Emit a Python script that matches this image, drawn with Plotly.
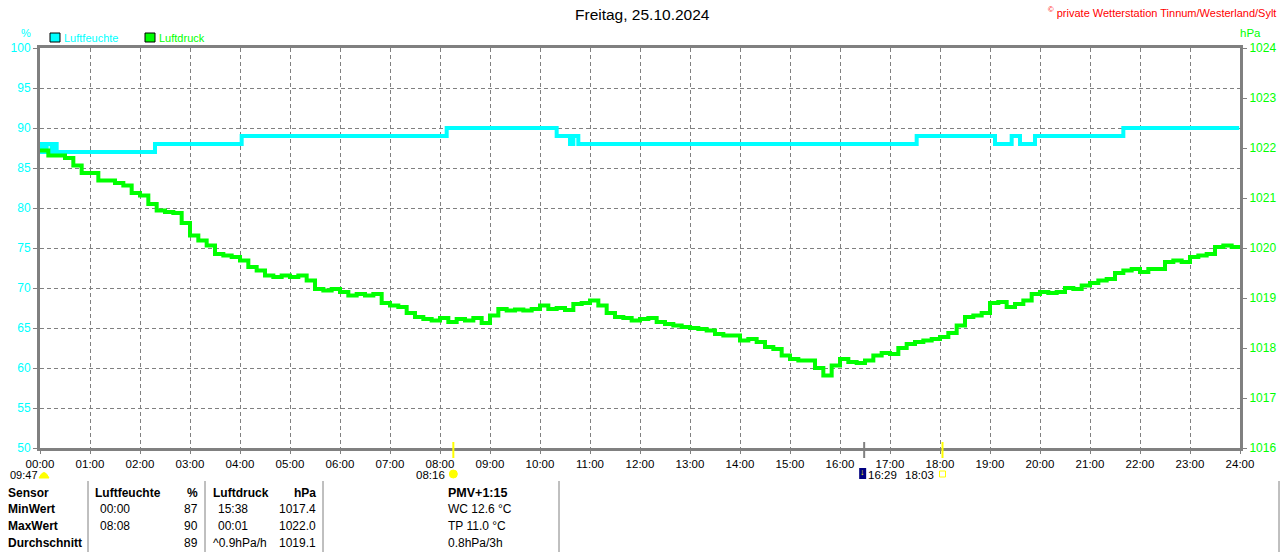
import plotly.graph_objects as go

# Luftfeuchte (%), Stufenwerte: Zeitpunkt des Wechsels -> neuer Wert
hum_times = ["00:00", "00:02", "00:06", "00:08", "00:14", "00:16", "00:20",
             "02:18", "04:02", "08:08", "10:20", "10:36", "10:40", "10:46",
             "17:32", "19:06", "19:26", "19:36", "19:54", "21:40", "23:59"]
hum_values = [87, 88, 87, 88, 87, 88, 87,
              88, 89, 90, 89, 88, 89, 88,
              89, 88, 89, 88, 89, 90, 90]

# Luftdruck (hPa), alle 10 Minuten ab 00:00
press_values = [
    1021.95, 1021.85, 1021.85, 1021.80, 1021.65, 1021.50,
    1021.50, 1021.35, 1021.35, 1021.30, 1021.25, 1021.10,
    1021.05, 1020.88, 1020.75, 1020.72, 1020.70, 1020.50,
    1020.25, 1020.15, 1020.05, 1019.88, 1019.85, 1019.82,
    1019.75, 1019.62, 1019.55, 1019.45, 1019.42, 1019.45,
    1019.42, 1019.45, 1019.35, 1019.18, 1019.15, 1019.18,
    1019.12, 1019.05, 1019.08, 1019.05, 1019.08, 1018.90,
    1018.85, 1018.82, 1018.70, 1018.62, 1018.58, 1018.55,
    1018.60, 1018.52, 1018.58, 1018.55, 1018.60, 1018.50,
    1018.65, 1018.78, 1018.75, 1018.77, 1018.75, 1018.78,
    1018.85, 1018.78, 1018.80, 1018.76, 1018.88, 1018.90,
    1018.95, 1018.85, 1018.70, 1018.62, 1018.60, 1018.55,
    1018.58, 1018.60, 1018.52, 1018.48, 1018.45, 1018.42,
    1018.40, 1018.38, 1018.35, 1018.28, 1018.25, 1018.25,
    1018.15, 1018.18, 1018.12, 1018.02, 1017.98, 1017.85,
    1017.78, 1017.75, 1017.75, 1017.60, 1017.45, 1017.65,
    1017.78, 1017.72, 1017.70, 1017.75, 1017.85, 1017.90,
    1017.88, 1018.00, 1018.08, 1018.12, 1018.15, 1018.18,
    1018.22, 1018.30, 1018.45, 1018.62, 1018.65, 1018.70,
    1018.90, 1018.92, 1018.82, 1018.88, 1018.95, 1019.08,
    1019.12, 1019.10, 1019.12, 1019.20, 1019.18, 1019.25,
    1019.30, 1019.35, 1019.38, 1019.50, 1019.55, 1019.58,
    1019.52, 1019.58, 1019.58, 1019.72, 1019.75, 1019.72,
    1019.82, 1019.85, 1019.88, 1020.02, 1020.05, 1020.02,
    1020.05,
]

hour_labels = ["%02d:00" % h for h in range(25)]

# Ereignisse unter der Zeitachse
day_length = "09:47"
sunrise = "08:16"
tide = "16:29"
sunset = "18:03"

# Tabelle
table_header = ["Sensor", "Luftfeuchte", "%", "Luftdruck", "hPa"]
row_names = ["MinWert", "MaxWert", "Durchschnitt"]
hum_time = ["00:00", "08:08", ""]
hum_val = ["87", "90", "89"]
press_time = ["15:38", "00:01", "^0.9hPa/h"]
press_val = ["1017.4", "1022.0", "1019.1"]
pmv_title = "PMV+1:15"
pmv_lines = ["WC 12.6 °C", "TP 11.0 °C", "0.8hPa/3h"]

CYAN = "#00FFFF"
GREEN = "#00FF00"
GRID = "#808080"
FONT = "Liberation Sans, Arial, sans-serif"


def hours(t):
    h, m = t.split(":")
    return int(h) + int(m) / 60


def px(x):
    return (x - 40) / 1200


def py(y):
    return (448 - y) / 400


press_times = [i / 6 for i in range(len(press_values))]

fig = go.Figure()
fig.add_trace(go.Scatter(
    x=press_times, y=press_values, yaxis="y2", mode="lines",
    line=dict(color=GREEN, width=4, shape="hv"), name="Luftdruck"))
fig.add_trace(go.Scatter(
    x=[hours(t) for t in hum_times], y=hum_values, mode="lines",
    line=dict(color=CYAN, width=4, shape="hv"), name="Luftfeuchte"))

annotations = []
shapes = []


def label(x, y, text, color="black", size=11, anchor="left"):
    annotations.append(dict(
        x=px(x), y=py(y), xref="paper", yref="paper", text=text,
        showarrow=False, xanchor=anchor, yanchor="middle",
        font=dict(color=color, size=size, family=FONT)))


# Titel, Copyright, Einheiten, Legende
label(642, 15, "Freitag, 25.10.2024", size=15.5, anchor="center")
label(1278, 12, "<sup>©</sup> private Wetterstation Tinnum/Westerland/Sylt",
      color="#FF0000", size=11, anchor="right")
label(26, 33, "%", color=CYAN, size=11, anchor="center")
label(1250, 33, "hPa", color=GREEN, size=11.5, anchor="center")
for x0, name, col in [(50, "Luftfeuchte", CYAN), (145, "Luftdruck", GREEN)]:
    shapes.append(dict(type="rect", xref="paper", yref="paper",
                       x0=px(x0), x1=px(x0 + 10), y0=py(42), y1=py(33),
                       fillcolor=col, line=dict(color="black", width=1)))
    label(x0 + 12, 38, name, color=col, size=11)

# Marker unter der Zeitachse
for t, col in [(sunrise, "#FFFF00"), (sunset, "#FFFF00"), (tide, GRID)]:
    shapes.append(dict(type="line", xref="x", yref="paper",
                       x0=hours(t), x1=hours(t), y0=py(442), y1=py(458),
                       line=dict(color=col, width=2)))

label(8, 475, day_length, size=11)
shapes.append(dict(type="path", xref="paper", yref="paper",
                   path="M %f,%f Q %f,%f %f,%f Z" % (px(39), py(478), px(44), py(467), px(49), py(478)),
                   fillcolor="#FFFF00", line=dict(color="#FFFF00", width=1)))

x_sr = 40 + hours(sunrise) * 50
label(x_sr - 6, 475, sunrise, size=11.5, anchor="right")
shapes.append(dict(type="circle", xref="paper", yref="paper",
                   x0=px(x_sr - 4), x1=px(x_sr + 4), y0=py(478), y1=py(470),
                   fillcolor="#FFFF00", line=dict(color="#FFFF00", width=1)))

x_td = 40 + hours(tide) * 50
shapes.append(dict(type="rect", xref="paper", yref="paper",
                   x0=px(x_td - 5), x1=px(x_td + 2), y0=py(479), y1=py(468),
                   fillcolor="#000080", line=dict(width=0)))
label(x_td - 1.5, 472, "↓", color="#FFFF00", size=9, anchor="center")
label(x_td + 2, 475, tide, size=11.5)

x_ss = 40 + hours(sunset) * 50
label(x_ss - 7, 475, sunset, size=11.5, anchor="right")
shapes.append(dict(type="rect", xref="paper", yref="paper",
                   x0=px(x_ss - 3), x1=px(x_ss + 3), y0=py(477), y1=py(471),
                   line=dict(color="#FFFF00", width=1)))

# Tabelle
for x in [88, 205, 323, 559, 1279]:
    shapes.append(dict(type="line", xref="paper", yref="paper",
                       x0=px(x), x1=px(x), y0=py(481), y1=py(552),
                       line=dict(color=GRID, width=1)))

row_y = [493, 509, 526, 543]
TS = 12
label(6, row_y[0], "<b>%s</b>" % table_header[0], size=TS)
label(93, row_y[0], "<b>%s</b>" % table_header[1], size=TS)
label(200, row_y[0], "<b>%s</b>" % table_header[2], size=TS, anchor="right")
label(211, row_y[0], "<b>%s</b>" % table_header[3], size=TS)
label(318, row_y[0], "<b>%s</b>" % table_header[4], size=TS, anchor="right")
for i, name in enumerate(row_names):
    y = row_y[i + 1]
    label(6, y, "<b>%s</b>" % name, size=TS)
    label(98, y, hum_time[i], size=TS)
    label(200, y, hum_val[i], size=TS, anchor="right")
    px_t = 211 if press_time[i].startswith("^") else 216
    label(px_t, y, press_time[i], size=TS)
    label(318, y, press_val[i], size=TS, anchor="right")

label(446, row_y[0], "<b>%s</b>" % pmv_title, size=12.5)
for i, line in enumerate(pmv_lines):
    label(446, row_y[i + 1], line, size=TS)

fig.update_layout(
    template="none",
    width=1280, height=552,
    margin=dict(l=40, r=40, t=48, b=104, autoexpand=False),
    paper_bgcolor="white", plot_bgcolor="white",
    showlegend=False,
    font=dict(family=FONT, size=11, color="black"),
    xaxis=dict(
        range=[0, 24], tickvals=list(range(25)), ticktext=hour_labels,
        showgrid=True, gridcolor=GRID, griddash="4px,3px", gridwidth=1,
        showline=True, linecolor=GRID, linewidth=3, mirror=True,
        ticks="outside", ticklen=3, tickcolor=GRID, automargin=False,
        tickfont=dict(color="black", size=11.5), zeroline=False,
    ),
    yaxis=dict(
        range=[50, 100], dtick=5, tick0=50,
        showgrid=True, gridcolor=GRID, griddash="4px,3px", gridwidth=1,
        showline=True, linecolor=GRID, linewidth=3, automargin=False,
        ticks="outside", ticklen=4, tickcolor=GRID,
        tickfont=dict(color=CYAN, size=12), zeroline=False,
    ),
    yaxis2=dict(
        range=[1016, 1024], dtick=1, overlaying="y", side="right",
        showgrid=False, showline=True, linecolor=GRID, linewidth=3,
        ticks="outside", ticklen=4, tickcolor=GRID, automargin=False,
        tickfont=dict(color=GREEN, size=12), zeroline=False,
    ),
    annotations=annotations,
    shapes=shapes,
)

fig.write_html(
    "out.html",
    config={"displayModeBar": False},
    post_script="document.body.style.margin = '0';",
)
